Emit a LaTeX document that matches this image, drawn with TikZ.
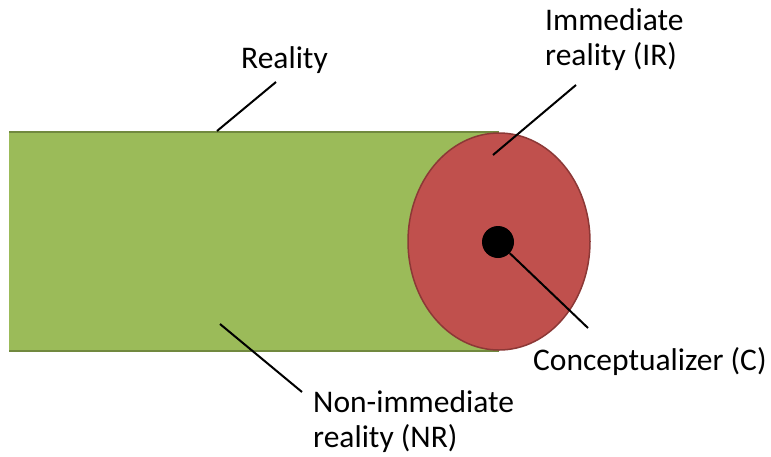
\documentclass[tikz,border=0pt]{standalone}
\usepackage{fontspec}
\setmainfont{Carlito}
\usetikzlibrary{shapes.geometric,positioning,calc}

\definecolor{olive}{HTML}{9BBB59}
\definecolor{oliveedge}{HTML}{71893F}
\definecolor{brick}{HTML}{C0504D}
\definecolor{brickedge}{HTML}{8C3836}

\begin{document}
\begin{tikzpicture}[
    x=1pt, y=-1pt,
    label/.style={font=\fontsize{31.5}{35}\selectfont, inner sep=0pt, align=left},
    leader/.style={draw=black, line width=2pt},
    band/.style={fill=olive},
    bandedge/.style={draw=oliveedge, line width=2.2pt},
    zone/.style={ellipse, fill=brick, draw=brickedge, line width=1.5pt, minimum width=182pt, minimum height=217pt, inner sep=0pt},
    self/.style={circle, fill=black, minimum size=32pt, inner sep=0pt},
]
\useasboundingbox (0,0) rectangle (771,456);
% the band of reality, with no edge at its left end
\coordinate (bandNW) at (9,132);
\coordinate (bandSE) at (499,351);
\fill[band] (bandNW) rectangle (bandSE);
\draw[bandedge] (bandNW) -- (bandNW -| bandSE);
\draw[bandedge] (bandNW |- bandSE) -- (bandSE);
% immediate reality and the conceptualizer
\node[zone] (ir) at (499,241.5) {};
\node[self] (conc) at (498,242) {};
% labels (base = last line)
\node[label, anchor=base] (lblReality) at (284.5,68) {Reality};
\node[label, anchor=base west] (lblIR) at (545,65) {Immediate\\reality (IR)};
\node[label, anchor=base west] (lblNR) at (313,447) {Non-immediate\\reality (NR)};
\node[label, anchor=base west] (lblC) at (533,370) {Conceptualizer (C)};
% leader lines
\coordinate (realityFrom) at (276,82);
\coordinate (realityTo) at (217,131);
\coordinate (irFrom) at (576,85);
\coordinate (irTo) at (493,155);
\coordinate (nrFrom) at (302,392);
\coordinate (nrTo) at (220,324);
\coordinate (cTo) at (588,328);
\draw[leader] (realityFrom) -- (realityTo);
\draw[leader] (irFrom) -- (irTo);
\draw[leader] (nrFrom) -- (nrTo);
\draw[leader] (conc) -- (cTo);
\end{tikzpicture}
\end{document}
